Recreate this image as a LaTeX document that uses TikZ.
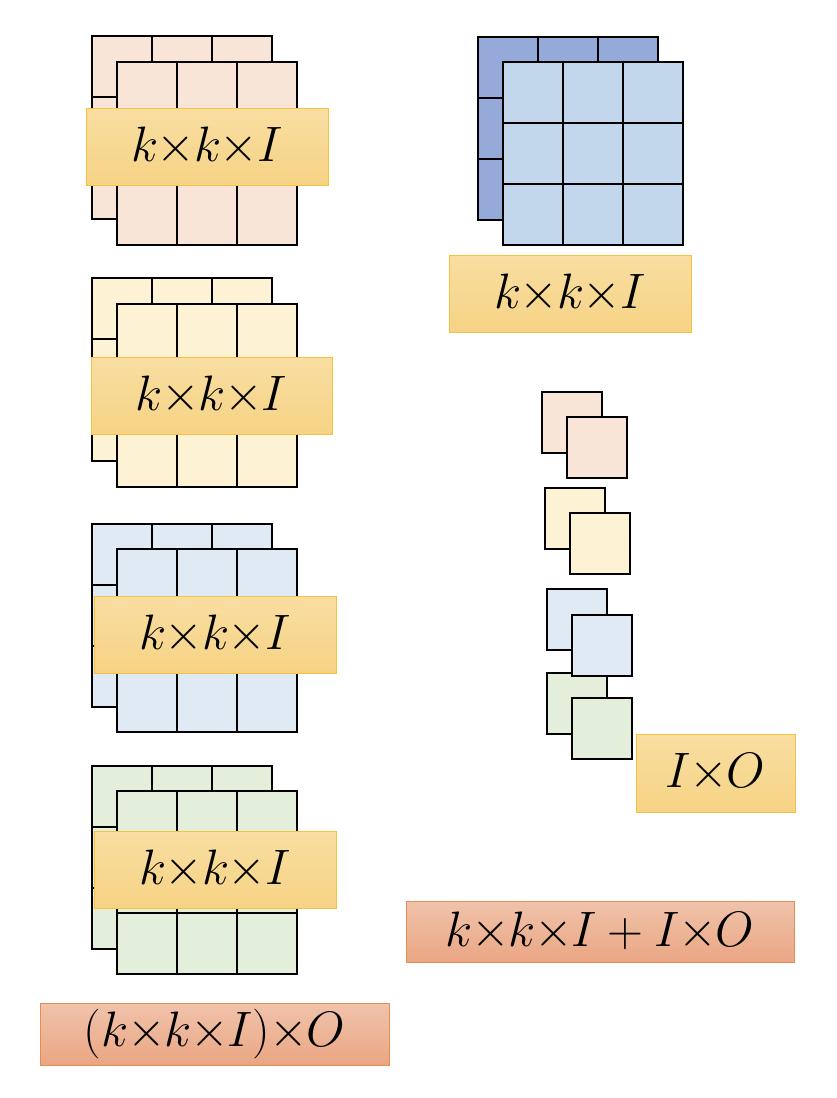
\documentclass[tikz,border=0pt]{standalone}
\usepackage{amsmath}
\usepackage{tikz}

\definecolor{tanfill}{HTML}{F8E5D8}
\definecolor{yellowfill}{HTML}{FDF2D3}
\definecolor{bluefill}{HTML}{DFEAF5}
\definecolor{greenfill}{HTML}{E3EFDA}
\definecolor{navyfill}{HTML}{95AAD8}
\definecolor{skyfill}{HTML}{C3D7EC}
\definecolor{goldtop}{HTML}{F9DEA2}
\definecolor{goldbot}{HTML}{F6D385}
\definecolor{goldline}{HTML}{F4C141}
\definecolor{redtop}{HTML}{F0C3AB}
\definecolor{redbot}{HTML}{EAA683}
\definecolor{redline}{HTML}{E38C55}
\newcommand{\tms}{\mkern-0.5mu{\times}\mkern-0.5mu}

\begin{document}
\begin{tikzpicture}[x = 0.5pt, y = -0.5pt, line width = 1pt,
                        goldlab/.style = {draw = goldline, line width = 0.4pt, top color = goldtop, bottom color = goldbot,
                                          inner sep = 0pt, minimum height = 38.5pt, font = \fontsize{24.88}{28}\selectfont},
                        redlab/.style = {draw = redline, line width = 0.4pt, top color = redtop, bottom color = redbot,
                                         inner sep = 0pt, minimum height = 31pt, font = \fontsize{24.88}{28}\selectfont}]
      \useasboundingbox (0, 0) rectangle (836, 1098);
      % k x k x I sheets, back one first
      \foreach \x/\y/\c in {92/36/tanfill, 117/62/tanfill, 92/278/yellowfill, 117/304/yellowfill,
                            92/524/bluefill, 117/549/bluefill, 92/766/greenfill, 117/791/greenfill,
                            478/37/navyfill, 503/62/skyfill} {
        \draw [fill = \c] (\x, \y) rectangle ++(180, 183);
        \foreach \i in {1, 2} {
          \draw (\x + 60*\i, \y) -- ++(0, 183);
          \draw (\x, \y + 61*\i) -- ++(180, 0);
        }
      }
      % 1 x 1 pairs
      \foreach \x/\y/\c in {547/673/greenfill, 572/698/greenfill, 547/589/bluefill, 572/615/bluefill,
                            545/488/yellowfill, 570/513/yellowfill, 542/392/tanfill, 567/417/tanfill}
        \draw [fill = \c] (\x, \y) rectangle ++(60, 61);
      \node [goldlab, minimum width = 121pt] (tanlab) at (207, 146.5) {$k\tms k\tms I$};
      \node [goldlab, minimum width = 120.5pt] (yellowlab) at (211.5, 395.5) {$k\tms k\tms I$};
      \node [goldlab, minimum width = 121pt] (bluelab) at (215, 634.5) {$k\tms k\tms I$};
      \node [goldlab, minimum width = 121pt] (greenlab) at (215, 869.5) {$k\tms k\tms I$};
      \node [goldlab, minimum width = 121pt] (skylab) at (570, 293.5) {$k\tms k\tms I$};
      \node [goldlab, minimum width = 79.5pt, minimum height = 39pt] (pointlab) at (715.5, 773) {$I\tms O$};
      \node [redlab, minimum width = 194pt, minimum height = 30.5pt] (sumlab) at (600, 931.5) {$k\tms k\tms I+I\tms O$};
      \node [redlab, minimum width = 174.5pt] (prodlab) at (214.5, 1034) {$(k\tms k\tms I)\tms O$};
    \end{tikzpicture}
\end{document}
